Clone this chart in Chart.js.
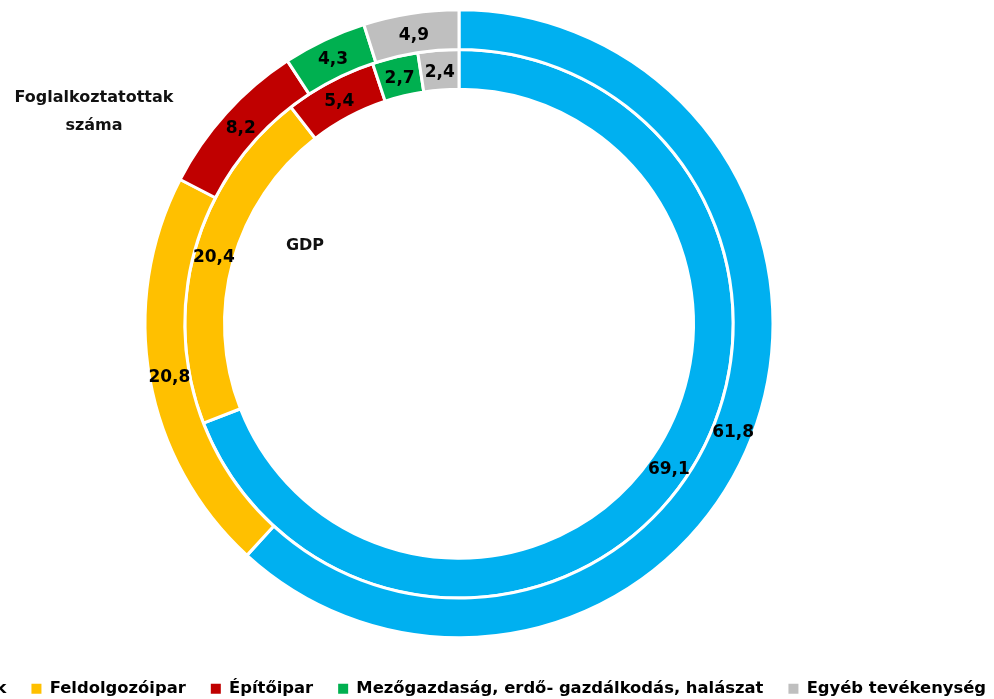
<!DOCTYPE html>
<html>
<head>
<meta charset="utf-8">
<script src="https://cdn.jsdelivr.net/npm/chart.js@4/dist/chart.umd.min.js"></script>
<style>
  html, body { margin: 0; padding: 0; background: #fff; overflow: hidden; width: 994px; height: 699px; }
  #wrap { position: absolute; left: -191px; top: -8px; width: 1300px; height: 715px; }
  .note { position: absolute; font: bold 16px "DejaVu Sans", sans-serif; color: #111; text-align: center; line-height: 28px; }
</style>
</head>
<body>
<div id="wrap"><canvas id="ringChart" width="1300" height="715"></canvas></div>
<div class="note" style="left:0; top:83px; width:188px;">Foglalkoztatottak<br>száma</div>
<div class="note" style="left:265px; top:231px; width:80px;">GDP</div>
<script>
// ================= DATA =================
const categories = ["Szolgáltatások", "Feldolgozóipar", "Építőipar", "Mezőgazdaság, erdő- gazdálkodás, halászat", "Egyéb tevékenység"];
const employment = [61.8, 20.8, 8.2, 4.3, 4.9];   // outer ring
const gdp = [69.1, 20.4, 5.4, 2.7, 2.4];          // inner ring
const colors = ["#00B0F0", "#FFC000", "#C00000", "#00B050", "#BFBFBF"];

const fmt = v => v.toFixed(1).replace(".", ",");

// ================= PLUGINS =================
const sliceLabels = {
    id: "sliceLabels",
    afterDatasetsDraw(chart) {
        const ctx = chart.ctx;
        ctx.save();
        ctx.font = 'bold 17px "DejaVu Sans"';
        ctx.fillStyle = "#000";
        ctx.textAlign = "center";
        ctx.textBaseline = "middle";
        chart.data.datasets.forEach((ds, i) => {
            chart.getDatasetMeta(i).data.forEach((arc, j) => {
                const p = arc.tooltipPosition();
                ctx.fillText(fmt(ds.data[j]), p.x, p.y + 2);
            });
        });
        ctx.restore();
    }
};

// legend sits a bit left of the rings in the original
const legendShift = {
    id: "legendShift",
    afterLayout(chart) {
        chart.legend.left -= 40;
        chart.legend.right -= 40;
    }
};

// ================= CHART =================
new Chart(ringChart, {
    type: "doughnut",
    data: {
        labels: categories,
        datasets: [
            { label: "Foglalkoztatottak száma", data: employment, backgroundColor: colors, borderColor: "#fff", borderWidth: 3 },
            { label: "GDP", data: gdp, backgroundColor: colors, borderColor: "#fff", borderWidth: 3 }
        ]
    },
    options: {
        responsive: false,
        animation: false,
        radius: 314,
        cutout: "74.68%",
        layout: { padding: 0 },
        plugins: {
            tooltip: { enabled: false },
            legend: {
                position: "bottom",
                labels: {
                    boxWidth: 10,
                    boxHeight: 10,
                    padding: 25,
                    color: "#000",
                    font: { family: "DejaVu Sans", size: 16.4, weight: "bold" },
                    generateLabels: chart =>
                        Chart.overrides.doughnut.plugins.legend.labels.generateLabels(chart)
                            .map(l => ({ ...l, lineWidth: 0, strokeStyle: l.fillStyle }))
                }
            }
        }
    },
    plugins: [sliceLabels, legendShift]
});
</script>
</body>
</html>
